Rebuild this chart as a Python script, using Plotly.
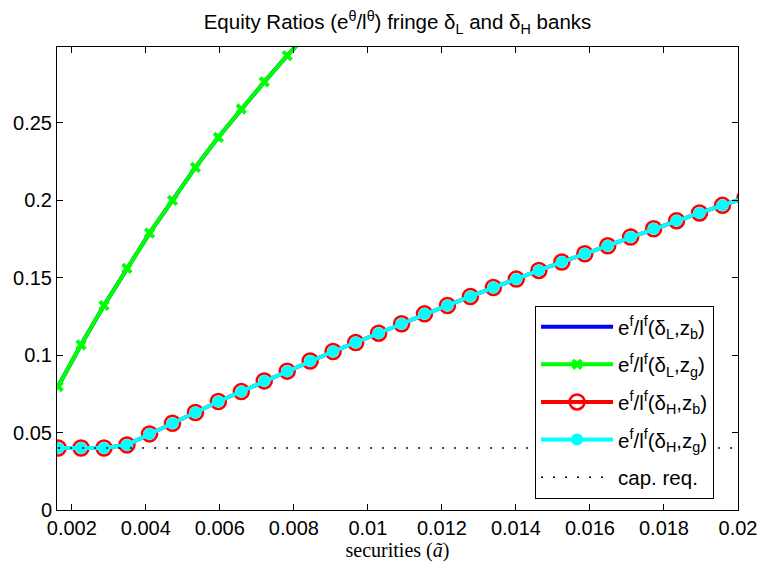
import plotly.graph_objects as go

# securities grid (x)
sec = [0.00163, 0.00225, 0.00287, 0.00349, 0.00410, 0.00472, 0.00534, 0.00596,
       0.00658, 0.00720, 0.00782, 0.00844, 0.00906, 0.00967, 0.01029, 0.01091,
       0.01153, 0.01215, 0.01277, 0.01339, 0.01401, 0.01462, 0.01524, 0.01586,
       0.01648, 0.01710, 0.01772, 0.01834, 0.01896, 0.01958, 0.02019]

# delta_L banks (z_b and z_g lie on top of each other), leaves the top of the axes
eqL_zb = [0.0797, 0.1066, 0.1320, 0.1559, 0.1787, 0.1998, 0.2211, 0.2405,
          0.2588, 0.2763, 0.2932, 0.3095]
eqL_zg = [0.0797, 0.1066, 0.1320, 0.1559, 0.1787, 0.1998, 0.2211, 0.2405,
          0.2588, 0.2763, 0.2932, 0.3095]

# delta_H banks
eqH_zb = [0.0400, 0.0400, 0.0400, 0.0420, 0.0491, 0.0560, 0.0629, 0.0700,
          0.0764, 0.0833, 0.0896, 0.0962, 0.1023, 0.1081, 0.1141, 0.1202,
          0.1266, 0.1320, 0.1378, 0.1436, 0.1490, 0.1546, 0.1600, 0.1654,
          0.1705, 0.1762, 0.1815, 0.1867, 0.1917, 0.1966, 0.2015]
eqH_zg = list(eqH_zb)

cap_req = 0.04

xtickvals = [0.002, 0.004, 0.006, 0.008, 0.01, 0.012, 0.014, 0.016, 0.018, 0.02]
xticktext = ['0.002', '0.004', '0.006', '0.008', '0.01', '0.012', '0.014', '0.016', '0.018', '0.02']
ytickvals = [0, 0.05, 0.1, 0.15, 0.2, 0.25]
yticktext = ['0', '0.05', '0.1', '0.15', '0.2', '0.25']

fig = go.Figure()

fig.add_trace(go.Scatter(x=sec[:len(eqL_zb)], y=eqL_zb, mode='lines',
                         line=dict(color='#0000ff', width=4),
                         name='e<sup>f</sup>/l<sup>f</sup>(δ<sub>L</sub>,z<sub>b</sub>)',
                         legendgroup='a'))
fig.add_trace(go.Scatter(x=sec[:len(eqL_zg)], y=eqL_zg, mode='lines+markers',
                         line=dict(color='#00ff00', width=4),
                         marker=dict(symbol='x', size=10, color='#00ff00'),
                         name='e<sup>f</sup>/l<sup>f</sup>(δ<sub>L</sub>,z<sub>g</sub>)',
                         legendgroup='b'))
fig.add_trace(go.Scatter(x=sec, y=eqH_zb, mode='lines+markers',
                         line=dict(color='#ff0000', width=4),
                         marker=dict(symbol='circle-open', size=15, color='#ff0000',
                                     line=dict(width=2.5, color='#ff0000')),
                         name='e<sup>f</sup>/l<sup>f</sup>(δ<sub>H</sub>,z<sub>b</sub>)',
                         legendgroup='c'))
fig.add_trace(go.Scatter(x=sec, y=eqH_zg, mode='lines+markers',
                         line=dict(color='#00ffff', width=4),
                         marker=dict(symbol='circle', size=12, color='#00ffff'),
                         name='e<sup>f</sup>/l<sup>f</sup>(δ<sub>H</sub>,z<sub>g</sub>)',
                         legendgroup='d'))
fig.add_trace(go.Scatter(x=[sec[0], 0.02], y=[cap_req, cap_req], mode='lines',
                         line=dict(color='black', width=1.5, dash='2px,10px'),
                         name='cap. req.', legendgroup='e'))

fig.update_layout(
    width=758, height=565,
    margin=dict(l=57, r=20, t=47, b=55),
    plot_bgcolor='white', paper_bgcolor='white',
    font=dict(family='Liberation Sans, Arial, sans-serif', size=20, color='black'),
    title=dict(text='Equity Ratios (e<sup>θ</sup>/l<sup>θ</sup>) fringe δ<sub>L</sub> and δ<sub>H</sub> banks',
               x=0.5, xref='paper', y=0.961, yanchor='middle',
               font=dict(size=20.5, color='black')),
    legend=dict(x=0.702, y=0.441, xanchor='left', yanchor='top',
                bgcolor='white', bordercolor='black', borderwidth=1,
                font=dict(size=20.5), tracegroupgap=8, itemwidth=72),
)

fig.update_xaxes(range=[0.0016, 0.02], tickvals=xtickvals, ticktext=xticktext, automargin=False,
                 showline=True, linecolor='black', linewidth=1, mirror='ticks',
                 ticks='inside', ticklen=6, tickcolor='black', showgrid=False, zeroline=False,
                 title=dict(text='securities (<i>ã</i>)', standoff=3,
                            font=dict(family='Liberation Serif, DejaVu Serif, serif', size=20)))
fig.update_yaxes(range=[0, 0.2988], tickvals=ytickvals, ticktext=yticktext, automargin=False,
                 showline=True, linecolor='black', linewidth=1, mirror='ticks',
                 ticks='inside', ticklen=6, tickcolor='black', showgrid=False, zeroline=False)

# drop the default 8px body margin so the 758x565 figure fills the window exactly
fig.write_html("out.html", config={'displayModeBar': False},
               post_script="document.body.style.margin='0';document.body.style.overflow='hidden';")
